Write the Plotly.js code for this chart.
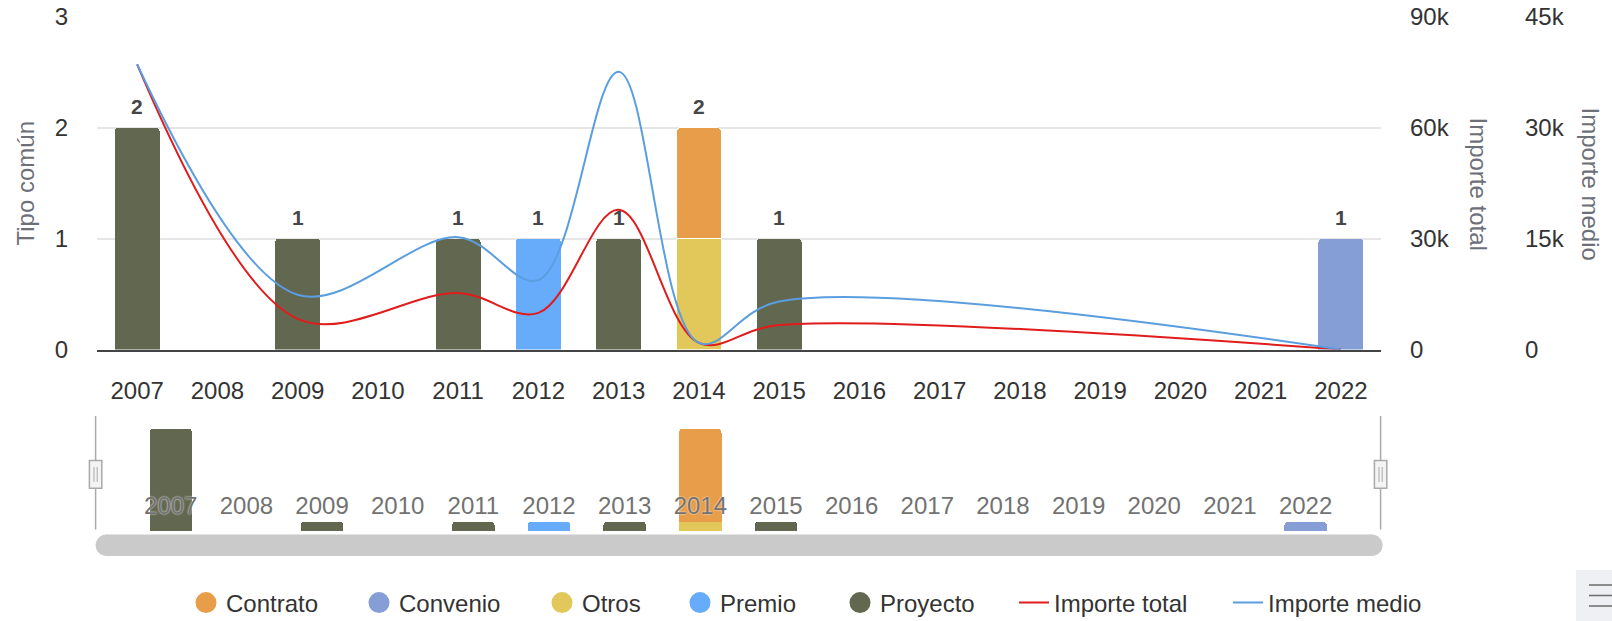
<!DOCTYPE html>
<html>
<head>
<meta charset="utf-8">
<script src="https://cdn.plot.ly/plotly-3.0.1.min.js"></script>
<style>
html,body{margin:0;padding:0;background:#fff;}
#chart{width:1612px;height:621px;}
</style>
</head>
<body>
<div id="chart"></div>
<script>
// ---------- data ----------
const years = ['2007','2008','2009','2010','2011','2012','2013','2014','2015','2016','2017','2018','2019','2020','2021','2022'];
const contrato = [null,null,null,null,null,null,null,1,null,null,null,null,null,null,null,null];
const convenio = [null,null,null,null,null,null,null,null,null,null,null,null,null,null,null,1];
const otros    = [null,null,null,null,null,null,null,1,null,null,null,null,null,null,null,null];
const premio   = [null,null,null,null,null,1,null,null,null,null,null,null,null,null,null,null];
const proyecto = [2,null,1,null,1,null,1,null,1,null,null,null,null,null,null,null];
const importeTotal = [77200,null,8300,null,15300,9900,37800,1800,6600,null,null,null,null,null,null,0];
const importeMedio = [38600,null,7400,null,15200,9400,37600,900,6500,null,null,null,null,null,null,0];
const leftTicks = [0,1,2,3];
const totalTicks = [0,30000,60000,90000];
const totalTickText = ['0','30k','60k','90k'];
const medioTicks = [0,15000,30000,45000];
const medioTickText = ['0','15k','30k','45k'];

const colors = {
  Contrato:'#e79d4a', Convenio:'#859fd6', Otros:'#e2c75a', Premio:'#66acfa', Proyecto:'#626850',
  total:'#e01c1c', medio:'#5a9ee0'
};

// ---------- geometry helpers (decoration only) ----------
const L = 97, R = 30, T = 17, B = 90, FW = 1612, FH = 621;
const W = FW - L - R, H = FH - T - B;
const X = px => (px - L) / W;
const Y = py => (FH - B - py) / H;

const FONT = 'Liberation Sans, Arial, Helvetica, sans-serif';
const FS = 24;

const series = [
  ['Proyecto', proyecto], ['Premio', premio], ['Otros', otros], ['Contrato', contrato], ['Convenio', convenio]
];

const traces = [];
// main bars
series.forEach(([name, vals]) => {
  traces.push({
    type:'bar', name, x: years, y: vals, xaxis:'x', yaxis:'y',
    marker:{color: colors[name], line:{color:'#ffffff', width: (name==='Otros'||name==='Contrato')?1:0}},
    showlegend:false, hoverinfo:'x+y+name'
  });
});
// navigator bars
series.forEach(([name, vals]) => {
  traces.push({
    type:'bar', name, x: years, y: vals, xaxis:'x2', yaxis:'y4',
    marker:{color: colors[name]}, showlegend:false, hoverinfo:'skip'
  });
});
// legend entries: one legend per entry to reproduce the spacing
const legendNames = ['Contrato','Convenio','Otros','Premio','Proyecto','Importe total','Importe medio'];
const legendTextStart = [228, 401, 584, 722, 882, 1056, 1270];
const legendKeys = legendNames.map((_, i) => i === 0 ? 'legend' : 'legend' + (i + 1));
['Contrato','Convenio','Otros','Premio','Proyecto'].forEach((name, i) => {
  traces.push({
    type:'scatter', mode:'markers', name, x:[null], y:[null], xaxis:'x2', yaxis:'y4',
    marker:{color: colors[name], size:16, symbol:'circle', line:{color: colors[name], width:5}},
    legend: legendKeys[i], showlegend:true, hoverinfo:'skip'
  });
});
// lines
traces.push({
  type:'scatter', mode:'lines', name:'Importe total', x: years, y: importeTotal,
  xaxis:'x', yaxis:'y2', connectgaps:true, legend: legendKeys[5],
  line:{color: colors.total, width:2, shape:'spline', smoothing:1}
});
traces.push({
  type:'scatter', mode:'lines', name:'Importe medio', x: years, y: importeMedio,
  xaxis:'x', yaxis:'y3', connectgaps:true, legend: legendKeys[6],
  line:{color: colors.medio, width:2, shape:'spline', smoothing:1}
});

// totals for labels (category axis: annotation x is the category index)
const totals = years.map((_, i) => [contrato, convenio, otros, premio, proyecto].reduce((a, arr) => a + (arr[i] || 0), 0));
const annotations = [];
years.forEach((yr, i) => {
  if (totals[i] > 0) annotations.push({
    x: i, y: totals[i], xref:'x', yref:'y', text: String(totals[i]), showarrow:false,
    xanchor:'center', yanchor:'middle', yshift: 21, font:{family: FONT, size:21, color:'#464646', weight:'bold'}
  });
});
// axis titles
const titleFont = {family: FONT, size: FS, color:'#6e7079'};
annotations.push({xref:'paper', yref:'paper', x: X(25), y: Y(183.5), xanchor:'center', yanchor:'middle', text:'Tipo común', textangle:-90, showarrow:false, font: titleFont});
annotations.push({xref:'paper', yref:'paper', x: X(1478), y: Y(183.5), xanchor:'center', yanchor:'middle', text:'Importe total', textangle:90, showarrow:false, font: titleFont});
annotations.push({xref:'paper', yref:'paper', x: X(1590), y: Y(183.5), xanchor:'center', yanchor:'middle', text:'Importe medio', textangle:90, showarrow:false, font: titleFont});

// decoration shapes: navigator handles, scrollbar, menu button
const shapes = [];
const handleLine = '#aaaaaa';
[95.6, 1380.6].forEach(hx => {
  shapes.push({type:'line', xref:'paper', yref:'paper', x0:X(hx), x1:X(hx), y0:Y(416), y1:Y(529.5), line:{color:handleLine, width:1.5}});
  shapes.push({type:'rect', xref:'paper', yref:'paper', x0:X(hx-6.2), x1:X(hx+6.2), y0:Y(460.5), y1:Y(488.3), fillcolor:'#f4f4f4', line:{color:handleLine, width:1.5}});
  shapes.push({type:'line', xref:'paper', yref:'paper', x0:X(hx-1.6), x1:X(hx-1.6), y0:Y(467), y1:Y(482), line:{color:handleLine, width:1}});
  shapes.push({type:'line', xref:'paper', yref:'paper', x0:X(hx+1.6), x1:X(hx+1.6), y0:Y(467), y1:Y(482), line:{color:handleLine, width:1}});
});
const sbTop = 534.5, sbBot = 556, sbL = 95.6, sbR = 1382.6, rad = (sbBot - sbTop)/2;
shapes.push({type:'rect', xref:'paper', yref:'paper', x0:X(sbL+rad), x1:X(sbR-rad), y0:Y(sbBot), y1:Y(sbTop), fillcolor:'#cacaca', line:{width:0}});
shapes.push({type:'circle', xref:'paper', yref:'paper', x0:X(sbL), x1:X(sbL+2*rad), y0:Y(sbBot), y1:Y(sbTop), fillcolor:'#cacaca', line:{width:0}});
shapes.push({type:'circle', xref:'paper', yref:'paper', x0:X(sbR-2*rad), x1:X(sbR), y0:Y(sbBot), y1:Y(sbTop), fillcolor:'#cacaca', line:{width:0}});
// menu button
shapes.push({type:'rect', xref:'paper', yref:'paper', x0:X(1576), x1:X(1625), y0:Y(630), y1:Y(570), fillcolor:'#eef0f3', line:{width:0}});
[585, 595.5, 606].forEach(ly => {
  shapes.push({type:'line', xref:'paper', yref:'paper', x0:X(1589), x1:X(1614), y0:Y(ly), y1:Y(ly), line:{color:'#6b6b6b', width:1.5}});
});

const xDomain = [0, X(1381)];
const tickFont = {family: FONT, size: FS, color:'#333333'};
const layout = {
  width: FW, height: FH,
  margin:{l:L, r:R, t:T, b:B, pad:0},
  paper_bgcolor:'#ffffff', plot_bgcolor:'rgba(0,0,0,0)',
  font:{family: FONT, size: FS, color:'#333333'},
  barmode:'stack', bargap:0.44, barcornerradius:4,
  showlegend:true,
  xaxis:{type:'category', categoryorder:'array', categoryarray: years, range:[-0.5, years.length-0.5], domain: xDomain, anchor:'y',
    showgrid:false, showline:true, linecolor:'#444444', linewidth:2, ticks:'', ticklabelstandoff:19,
    tickfont: tickFont, fixedrange:true, zeroline:false},
  yaxis:{domain:[Y(349.5), 1], range:[0,3], tickvals: leftTicks, showgrid:true, gridcolor:'#e6e6e6', gridwidth:1.5,
    zeroline:false, showline:false, ticks:'', ticklabelstandoff:28, tickfont: tickFont, fixedrange:true},
  yaxis2:{overlaying:'y', side:'right', anchor:'x', range:[0,90000], tickvals: totalTicks, ticktext: totalTickText,
    showgrid:false, zeroline:false, showline:false, ticks:'', ticklabelstandoff:28, tickfont: tickFont, fixedrange:true},
  yaxis3:{overlaying:'y', side:'right', anchor:'free', position: X(1496), range:[0,45000], tickvals: medioTicks, ticktext: medioTickText,
    showgrid:false, zeroline:false, showline:false, ticks:'', ticklabelstandoff:28, tickfont: tickFont, fixedrange:true},
  xaxis2:{type:'category', categoryorder:'array', categoryarray: years, range:[-0.5, years.length-0.5], domain:[X(132.9), X(1343.4)], anchor:'y4',
    showgrid:false, showline:false, zeroline:false, ticks:'inside', ticklen:14, tickcolor:'rgba(0,0,0,0)', ticklabelposition:'inside',
    tickfont:{family: FONT, size: FS, color:'#727272', shadow:'0px 0px 2px #ffffff'}, fixedrange:true},
  yaxis4:{domain:[0, Y(428.7)], range:[0.9, 2.0], showticklabels:false, showgrid:false, zeroline:false, showline:false, ticks:'', fixedrange:true},
  annotations, shapes
};
legendKeys.forEach((k, i) => {
  layout[k] = {
    orientation:'h', xref:'container', yref:'container', x: (legendTextStart[i] - 42) / FW, xanchor:'left',
    y: 1 - 603 / FH, yanchor:'middle', font:{family: FONT, size: FS, color:'#333333'},
    bgcolor:'rgba(0,0,0,0)', borderwidth:0, itemsizing:'trace'
  };
});

Plotly.newPlot('chart', traces, layout, {displayModeBar:false, responsive:false});
</script>
</body>
</html>
